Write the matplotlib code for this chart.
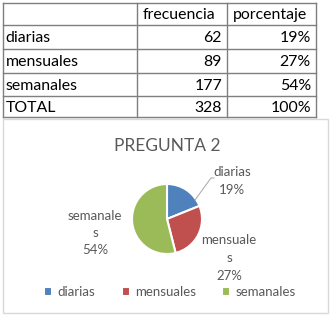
import matplotlib
matplotlib.use('Agg')
from matplotlib import pyplot as plt
from matplotlib.patches import Rectangle

# datos de la tabla / grafico
categorias = ['diarias', 'mensuales', 'semanales']
frecuencia = [62, 89, 177]
porcentaje = [19, 27, 54]
total_frec = 328
total_pct = 100
encabezados = ['', 'frecuencia', 'porcentaje']
etiquetas_pie = ['diarias\n19%', 'mensuale\ns\n27%', 'semanale\ns\n54%']
titulo = 'PREGUNTA 2'
colores = ['#4F81BD', '#C0504D', '#9BBB59']

plt.rcParams['font.family'] = ['Lato', 'DejaVu Sans']

W, H = 332, 315
fig = plt.figure(figsize=(W / 100, H / 100), dpi=100)
ax = fig.add_axes([0, 0, 1, 1])
ax.set_xlim(0, W)
ax.set_ylim(0, H)
ax.axis('off')

# ---- tabla ----
col_x = [2.5, 137, 227, 316]
row_y = [2.5, 25, 49, 72.7, 95.7, 116.7]
line_c = '#7f7f7f'
for yy in row_y:
    ax.plot([col_x[0], col_x[-1]], [H - yy, H - yy], color=line_c, lw=1)
for xx in col_x:
    ax.plot([xx, xx], [H - row_y[0], H - row_y[-1]], color=line_c, lw=1)

filas = [encabezados]
for c, f, p in zip(categorias, frecuencia, porcentaje):
    filas.append([c, str(f), '{}%'.format(p)])
filas.append(['TOTAL', str(total_frec), '{}%'.format(total_pct)])

fs_tab = 11.4
for i, fila in enumerate(filas):
    yc = H - (row_y[i] + row_y[i + 1]) / 2 - 1.5
    for j, txt in enumerate(fila):
        if i == 0 or j == 0:
            ax.text(col_x[j] + (3 if j == 0 else 6), yc, txt, ha='left', va='center',
                    fontsize=fs_tab, color='black')
        else:
            ax.text(col_x[j + 1] - 5, yc, txt, ha='right', va='center',
                    fontsize=fs_tab, color='black')

# ---- grafico ----
ax.add_patch(Rectangle((3, H - 313), 325, 194, fill=False, edgecolor='#d9d9d9', lw=1))
ax.text(167, H - 146, titulo, ha='center', va='center', fontsize=12.5, color='#595959')

cx, cy, r = 167, H - 219, 35
wedges, _ = ax.pie(frecuencia, colors=colores, startangle=90, counterclock=False,
                   center=(cx, cy), radius=r, frame=True,
                   wedgeprops=dict(edgecolor='white', linewidth=1.5))
ax.set_xlim(0, W)
ax.set_ylim(0, H)
ax.axis('off')

gris = '#595959'
fs_lab = 9.5
ax.text(232, H - 181, etiquetas_pie[0], ha='center', va='center', fontsize=fs_lab,
        color=gris, linespacing=1.55)
ax.plot([195, 211, 214], [H - 200, H - 178, H - 178], color='#a6a6a6', lw=0.7)
ax.text(229, H - 258, etiquetas_pie[1], ha='center', va='center', fontsize=fs_lab,
        color=gris, linespacing=1.55)
ax.text(95, H - 233, etiquetas_pie[2], ha='center', va='center', fontsize=fs_lab,
        color=gris, linespacing=1.45)

leg = ax.legend(wedges, categorias, loc='center', bbox_to_anchor=(170 / W, 23 / H),
                ncol=3, frameon=False, fontsize=fs_lab, handlelength=0.6,
                handleheight=0.6, handletextpad=0.4, columnspacing=2.0)
for t in leg.get_texts():
    t.set_color(gris)

fig.savefig('out.png', dpi=100)
